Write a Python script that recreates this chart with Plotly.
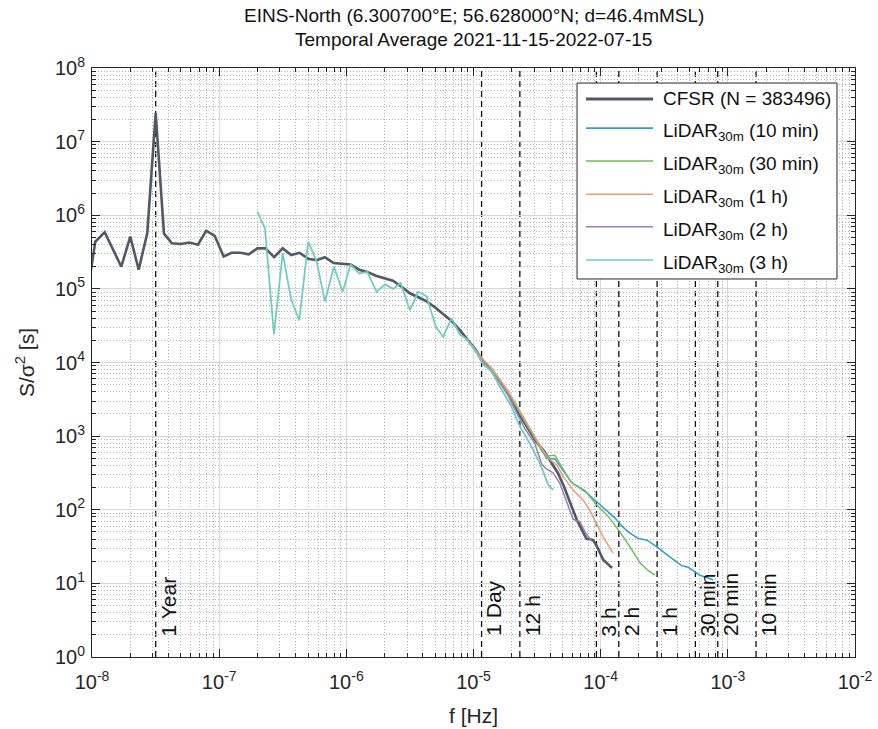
import plotly.graph_objects as go
import math

# ---------------- data ----------------
# CFSR reanalysis spectrum (frequency in Hz, normalised spectral density in s)
cfsr_f = [9.12e-9, 1.061e-8, 1.258e-8, 1.462e-8, 1.700e-8, 2.000e-8, 2.329e-8, 2.721e-8,
          3.168e-8, 3.681e-8, 4.254e-8, 4.981e-8, 5.862e-8, 6.812e-8, 7.917e-8, 9.219e-8,
          1.085e-7, 1.254e-7, 1.471e-7, 1.709e-7, 2.000e-7, 2.312e-7, 2.706e-7, 3.157e-7,
          3.687e-7, 4.294e-7, 5.016e-7, 5.842e-7, 6.787e-7, 7.941e-7, 9.286e-7, 1.081e-6,
          1.263e-6, 1.460e-6, 1.709e-6, 1.975e-6, 2.325e-6, 2.721e-6, 3.162e-6, 3.655e-6,
          4.278e-6, 4.971e-6, 5.777e-6, 6.761e-6, 7.815e-6, 9.037e-6, 1.044e-5, 1.158e-5,
          1.321e-5, 1.528e-5, 1.765e-5, 2.004e-5, 2.316e-5, 2.677e-5, 3.095e-5, 3.577e-5,
          4.060e-5, 4.608e-5, 5.136e-5, 5.727e-5, 6.500e-5, 7.718e-5, 8.684e-5, 9.252e-5,
          1.046e-4, 1.231e-4]
cfsr_s = [7.76e4, 4.37e5, 5.89e5, 3.39e5, 2.00e5, 5.13e5, 1.82e5, 5.75e5,
          2.45e7, 5.62e5, 4.17e5, 4.07e5, 4.27e5, 3.98e5, 6.17e5, 5.25e5,
          2.75e5, 3.09e5, 3.09e5, 2.95e5, 3.55e5, 3.55e5, 2.69e5, 3.55e5,
          2.88e5, 3.09e5, 2.57e5, 2.45e5, 2.69e5, 2.24e5, 2.19e5, 2.14e5,
          1.82e5, 1.70e5, 1.51e5, 1.41e5, 1.29e5, 1.07e5, 8.71e4, 7.76e4,
          6.76e4, 5.62e4, 4.57e4, 3.63e4, 2.75e4, 2.04e4, 1.48e4, 1.12e4,
          8.51e3, 6.31e3, 4.47e3, 3.16e3, 1.91e3, 1.26e3, 851, 631,
          447, 316, 209, 126, 72.4, 40.7, 38.9, 33.1,
          20.9, 16.2]

# LiDAR (30 m) spectra for different averaging intervals
lidar_10min_f = [8.823e-6, 1.026e-5, 1.192e-5, 1.388e-5, 1.613e-5, 1.874e-5, 2.182e-5, 2.535e-5,
                 2.946e-5, 3.430e-5, 3.756e-5, 4.364e-5, 4.954e-5, 5.902e-5, 7.513e-5, 9.286e-5,
                 1.099e-4, 1.293e-4, 1.468e-4, 1.645e-4, 1.971e-4, 2.296e-4, 2.750e-4, 3.139e-4,
                 3.499e-4, 4.325e-4, 4.874e-4, 6.025e-4, 7.661e-4]
lidar_10min_s = [2.09e4, 1.48e4, 1.02e4, 7.76e3, 5.50e3, 3.80e3, 2.45e3, 1.55e3,
                 1.02e3, 661, 501, 490, 355, 234, 178, 129,
                 100, 77.6, 60.3, 50.1, 40.7, 38.9, 31.6, 26.3,
                 22.9, 17.4, 16.6, 12.9, 11.2]

lidar_30min_f = [8.823e-6, 1.026e-5, 1.192e-5, 1.388e-5, 1.613e-5, 1.874e-5, 2.182e-5, 2.535e-5,
                 2.946e-5, 3.430e-5, 3.756e-5, 4.364e-5, 4.954e-5, 5.902e-5, 7.513e-5, 9.286e-5,
                 1.146e-4, 1.415e-4, 1.697e-4, 2.033e-4, 2.350e-4, 2.668e-4]
lidar_30min_s = [2.09e4, 1.48e4, 1.02e4, 7.94e3, 5.62e3, 3.89e3, 2.51e3, 1.58e3,
                 1.05e3, 631, 537, 550, 380, 234, 182, 117,
                 81.3, 50.1, 31.6, 19.1, 15.1, 12.9]

lidar_1h_f = [8.823e-6, 1.026e-5, 1.192e-5, 1.388e-5, 1.613e-5, 1.874e-5, 2.182e-5, 2.535e-5,
              2.946e-5, 3.430e-5, 3.866e-5, 4.500e-5, 5.231e-5, 6.076e-5, 7.284e-5, 8.223e-5,
              9.168e-5, 1.046e-4, 1.254e-4]
lidar_1h_s = [2.09e4, 1.51e4, 1.10e4, 8.51e3, 5.89e3, 4.07e3, 2.63e3, 1.66e3,
              1.07e3, 692, 501, 407, 263, 186, 135, 97.7,
              67.6, 42.7, 25.7]

lidar_2h_f = [8.823e-6, 1.026e-5, 1.192e-5, 1.388e-5, 1.613e-5, 1.874e-5, 2.182e-5, 2.535e-5,
              3.039e-5, 3.430e-5, 3.776e-5, 4.233e-5, 4.776e-5, 5.522e-5, 6.076e-5, 6.862e-5,
              7.649e-5, 8.526e-5]
lidar_2h_s = [2.09e4, 1.48e4, 1.00e4, 7.59e3, 5.25e3, 3.55e3, 2.09e3, 1.26e3,
              794, 417, 355, 316, 229, 115, 74.1, 69.2,
              47.9, 37.2]

lidar_3h_f = [1.993e-7, 2.291e-7, 2.697e-7, 3.157e-7, 3.667e-7, 4.262e-7, 5.016e-7, 5.842e-7,
              6.787e-7, 7.989e-7, 9.352e-7, 1.081e-6, 1.263e-6, 1.460e-6, 1.730e-6, 2.011e-6,
              2.337e-6, 2.672e-6, 3.162e-6, 3.674e-6, 4.278e-6, 5.063e-6, 5.777e-6, 6.724e-6,
              7.815e-6, 8.823e-6, 1.026e-5, 1.192e-5, 1.388e-5, 1.613e-5, 1.993e-5, 2.316e-5,
              2.776e-5, 3.327e-5, 3.866e-5, 4.233e-5]
lidar_3h_s = [1.12e6, 6.61e5, 2.40e4, 3.09e5, 7.41e4, 3.72e4, 4.37e5, 2.34e5,
              6.76e4, 2.00e5, 9.12e4, 2.14e5, 1.62e5, 1.70e5, 9.12e4, 1.15e5,
              1.00e5, 1.20e5, 5.13e4, 9.12e4, 7.94e4, 3.02e4, 2.24e4, 3.98e4,
              2.40e4, 2.09e4, 1.48e4, 9.33e3, 7.59e3, 4.68e3, 2.51e3, 1.35e3,
              794, 427, 219, 186]

# reference periods (seconds) marked by dashed lines
period_labels = ["1 Year", "1 Day", "12 h", "3 h", "2 h", "1 h", "30 min", "20 min", "10 min"]
period_seconds = [365.25 * 86400, 86400, 43200, 10800, 7200, 3600, 1800, 1200, 600]

# axis ticks
x_exponents = [-8, -7, -6, -5, -4, -3, -2]
y_exponents = [0, 1, 2, 3, 4, 5, 6, 7, 8]

series_names = ["CFSR (N = 383496)",
                "LiDAR<sub>30m</sub> (10 min)",
                "LiDAR<sub>30m</sub> (30 min)",
                "LiDAR<sub>30m</sub> (1 h)",
                "LiDAR<sub>30m</sub> (2 h)",
                "LiDAR<sub>30m</sub> (3 h)"]

title_lines = ["EINS-North (6.300700°E; 56.628000°N; d=46.4mMSL)",
               "Temporal Average 2021-11-15-2022-07-15"]

# ---------------- styling ----------------
FONT = "Liberation Sans, Arial, Helvetica, sans-serif"
INK = "#262626"
colors = ["#4f5a65", "#2b9fd3", "#6abf5a", "#f29a76", "#9d7bb5", "#72cbc3"]
widths = [2.6, 1.5, 1.5, 1.5, 1.5, 1.8]

series = [(cfsr_f, cfsr_s), (lidar_10min_f, lidar_10min_s), (lidar_30min_f, lidar_30min_s),
          (lidar_1h_f, lidar_1h_s), (lidar_2h_f, lidar_2h_s), (lidar_3h_f, lidar_3h_s)]

fig = go.Figure()
for (fx, sy), name, c, w in zip(series, series_names, colors, widths):
    fig.add_trace(go.Scatter(x=fx, y=sy, mode="lines", name=name,
                             line=dict(color=c, width=w), showlegend=False))

# dashed period markers with rotated labels
label_y = 1.8
for lab, T in zip(period_labels, period_seconds):
    f = 1.0 / T
    fig.add_shape(type="line", xref="x", yref="paper", x0=f, x1=f, y0=0, y1=1,
                  line=dict(color="#111111", width=1.3, dash="6px,4px"), layer="between")
    fig.add_annotation(x=math.log10(f), y=math.log10(label_y), xref="x", yref="y",
                       text=lab, textangle=-90, showarrow=False,
                       xanchor="left", yanchor="bottom", xshift=-1,
                       font=dict(family=FONT, size=21, color="#111111"))

# two-line title centred over the axes
for txt, ty in zip(title_lines, [1.0883, 1.0492]):
    fig.add_annotation(x=0.5, y=ty, xref="paper", yref="paper", text=txt, showarrow=False,
                       xanchor="center", yanchor="middle",
                       font=dict(family=FONT, size=19, color="#111111"))

# legend box drawn in paper coordinates (top-right of the axes)
leg_x0, leg_x1, leg_y0, leg_y1 = 0.6357, 0.9764, 0.6418, 0.9745
leg_line_x0, leg_line_x1, leg_text_x = 0.6474, 0.7353, 0.7457
leg_rows = [0.9474, 0.8980, 0.8421, 0.7856, 0.7306, 0.6740]
fig.add_shape(type="rect", xref="paper", yref="paper", x0=leg_x0, x1=leg_x1, y0=leg_y0, y1=leg_y1,
              line=dict(color=INK, width=1), fillcolor="white", layer="above")
for i, (name, c) in enumerate(zip(series_names, colors)):
    yy = leg_rows[i]
    fig.add_shape(type="line", xref="paper", yref="paper", x0=leg_line_x0, x1=leg_line_x1,
                  y0=yy, y1=yy, line=dict(color=c, width=2.8 if i == 0 else 1.6), layer="above")
    fig.add_annotation(x=leg_text_x, y=yy, xref="paper", yref="paper", text=name,
                       showarrow=False, xanchor="left", yanchor="middle",
                       yshift=0 if i == 0 else -4,
                       font=dict(family=FONT, size=19, color="#111111"))

minor_x = [k * 10.0 ** e for e in range(-8, -2) for k in range(2, 10)]
minor_y = [k * 10.0 ** e for e in range(0, 8) for k in range(2, 10)]

axis_common = dict(type="log", showline=True, linecolor=INK, linewidth=1, mirror="ticks",
                   ticks="inside", ticklen=8, tickwidth=1, tickcolor=INK, automargin=False,
                   showgrid=True, gridcolor="#d6d6d6", gridwidth=1, zeroline=False,
                   tickfont=dict(family=FONT, size=20, color=INK))

fig.update_xaxes(**axis_common, range=[-8, -2],
                 tickmode="array", tickvals=[10.0 ** e for e in x_exponents],
                 ticktext=[f"10<sup>{e}</sup>" for e in x_exponents],
                 ticklabelstandoff=7,
                 minor=dict(tickmode="array", tickvals=minor_x, ticks="inside", ticklen=4,
                            tickcolor=INK, showgrid=True, gridcolor="#b4b4b4", griddash="1px,2px"),
                 title=dict(text="f [Hz]", font=dict(family=FONT, size=21, color=INK), standoff=16))
fig.update_yaxes(**axis_common, range=[0, 8],
                 tickmode="array", tickvals=[10.0 ** e for e in y_exponents],
                 ticktext=[f"10<sup>{e}</sup>" for e in y_exponents],
                 ticklabelstandoff=2,
                 minor=dict(tickmode="array", tickvals=minor_y, ticks="inside", ticklen=4,
                            tickcolor=INK, showgrid=True, gridcolor="#b4b4b4", griddash="1px,2px"),
                 title=dict(text="S/σ<sup>2</sup> [s]", font=dict(family=FONT, size=21, color=INK),
                            standoff=14))

fig.update_layout(
    width=878, height=729,
    margin=dict(l=92, r=23, t=68, b=72, autoexpand=False),
    paper_bgcolor="white", plot_bgcolor="white",
    font=dict(family=FONT, size=20, color=INK),
    showlegend=False,
)

fig.write_html("out.html")
